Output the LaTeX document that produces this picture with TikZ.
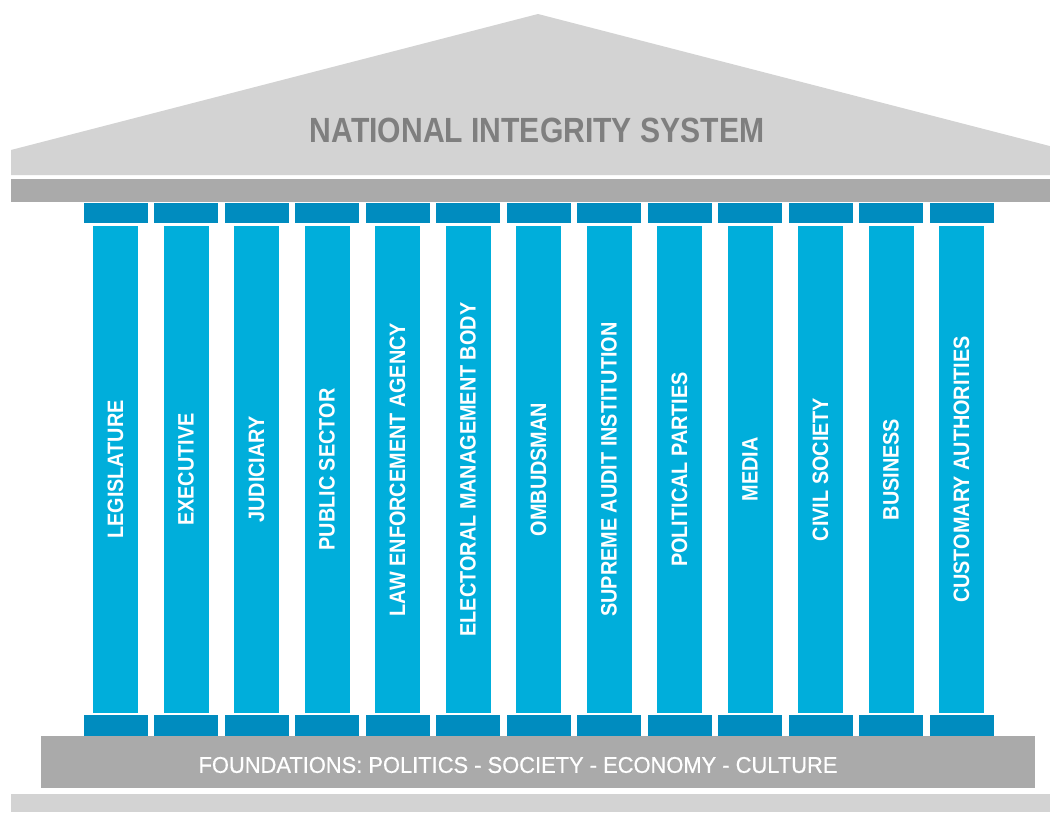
\documentclass[tikz,border=0pt]{standalone}
\usepackage{fontspec}
\setmainfont{Liberation Sans}
\newfontfamily\titlefont[FakeStretch=0.86]{Liberation Sans}
\newfontfamily\colfont[FakeStretch=0.89]{Liberation Sans}
\newfontfamily\foundfont[FakeStretch=0.96,FakeBold=0.6]{Liberation Sans}
\definecolor{roofgray}{HTML}{D3D3D3}
\definecolor{bandgray}{HTML}{AAAAAA}
\definecolor{capblue}{HTML}{008CBF}
\definecolor{colblue}{HTML}{00AEDB}
\definecolor{titlegray}{HTML}{7F7F7F}
\tikzset{
  capbox/.style={fill=capblue, draw=none, inner sep=0pt, minimum width=64pt},
  colbox/.style={fill=colblue, draw=none, inner sep=0pt, rotate=90,
    minimum width=487pt, minimum height=45pt, text=white,
    font=\colfont\bfseries\fontsize{22.3}{24}\selectfont},
  bandbox/.style={fill=bandgray, draw=none, inner sep=0pt},
  lightbox/.style={fill=roofgray, draw=none, inner sep=0pt}
}
\begin{document}
\begin{tikzpicture}[x=1pt,y=-1pt]
\useasboundingbox (0,0) rectangle (1050,812);
\fill[white] (0,0) rectangle (1050,812);
% roof
\fill[roofgray] (538,14) -- (11,150) -- (11,175) -- (1050,175) -- (1050,146.1) -- cycle;
\node[text=titlegray, font=\titlefont\bfseries\fontsize{35}{38}\selectfont, inner sep=0pt]
  (title) at (537,130) {NATIONAL INTEGRITY SYSTEM};
% entablature
\node[bandbox, minimum width=1039pt, minimum height=23pt] (entab) at (530.5,190.5) {};
% columns
\foreach \i/\t in {0/LEGISLATURE,1/EXECUTIVE,2/JUDICIARY,3/PUBLIC SECTOR,
  4/LAW ENFORCEMENT AGENCY,5/ELECTORAL MANAGEMENT BODY,6/OMBUDSMAN,
  7/SUPREME AUDIT INSTITUTION,8/POLITICAL PARTIES,9/MEDIA,10/CIVIL SOCIETY,
  11/BUSINESS,12/CUSTOMARY AUTHORITIES}{
  \pgfmathsetmacro\cx{115.5+70.5*\i}
  \node[capbox, minimum height=20pt] (ct\i) at (\cx,213) {};
  \node[colbox] (col\i) at (\cx,469.5) {\t};
  \node[capbox, minimum height=21pt] (cb\i) at (\cx,725.5) {};
}
% foundation
\node[bandbox, minimum width=994pt, minimum height=52pt] (found) at (538,762) {};
\node[text=white, font=\foundfont\fontsize{22.8}{24}\selectfont, inner sep=0pt]
  (foundtext) at (518,765) {FOUNDATIONS: POLITICS - SOCIETY - ECONOMY - CULTURE};
% ground
\node[lightbox, minimum width=1039pt, minimum height=18pt] (ground) at (530.5,803) {};
\end{tikzpicture}
\end{document}
